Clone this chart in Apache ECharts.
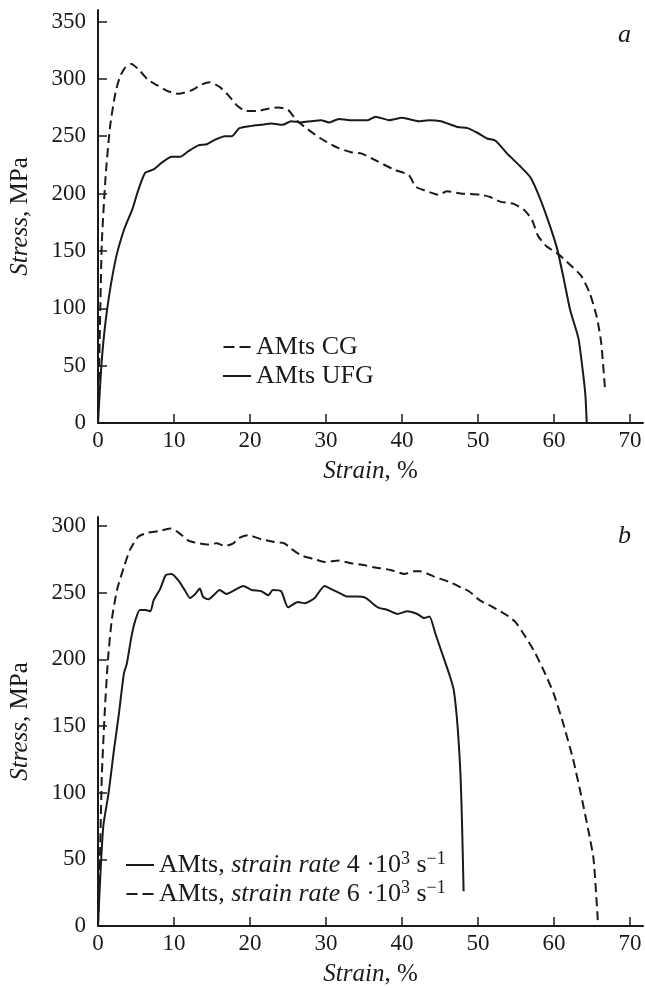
<!DOCTYPE html>
<html>
<head>
<meta charset="utf-8">
<style>
  html, body { margin: 0; padding: 0; background: #fff; }
  #chart { width: 645px; height: 988px; }
</style>
<script src="https://cdn.jsdelivr.net/npm/echarts@6/dist/echarts.min.js"></script>
</head>
<body>
<div id="chart"></div>
<script>
// panel a: coarse grain (dashed) / ultrafine grain (solid)
const cgStrain = [0, 0.3, 0.5, 1.0, 1.6, 2.3, 2.9, 3.6, 4.4, 5.5, 6.6, 7.9, 9.3, 10.6, 12.3, 13.6, 14.7, 16.0, 17.1, 18.4, 19.5, 21.0, 22.4, 23.7, 25.0, 26.1, 27.6, 29.3, 31.5, 33.3, 34.6, 36.8, 38.9, 40.9, 41.8, 43.3, 44.8, 45.9, 47.7, 50.3, 51.6, 52.9, 54.7, 56.0, 57.1, 57.9, 59.0, 60.6, 62.1, 63.6, 64.7, 65.6, 66.2, 66.7];
const cgStress = [0, 99, 157, 215, 259, 288, 302, 310, 313, 307, 299, 294, 289, 287, 290, 295, 297, 293, 286, 276, 272, 272, 274, 275, 273, 264, 256, 248, 240, 236, 235, 228, 221, 216, 206, 202, 199, 202, 200, 199, 197, 193, 191, 186, 177, 163, 154, 147, 138, 128, 113, 93, 70, 30];

const ufgStrain = [0, 0.5, 1.2, 2.3, 3.4, 4.5, 5.3, 6.2, 7.3, 8.4, 9.7, 10.8, 11.9, 13.2, 14.3, 15.4, 16.7, 17.6, 18.6, 20.2, 21.5, 22.8, 24.3, 25.4, 26.7, 28.0, 29.3, 30.4, 31.7, 33.1, 34.6, 35.5, 36.5, 38.3, 40.0, 42.2, 43.5, 45.1, 47.3, 48.6, 49.9, 51.2, 52.3, 53.8, 55.5, 56.9, 58.2, 59.5, 60.4, 61.2, 62.1, 63.2, 63.6, 64.1, 64.3];
const ufgStress = [0, 55, 99, 142, 168, 186, 203, 218, 221, 227, 232, 232, 237, 242, 243, 247, 250, 250, 257, 259, 260, 261, 260, 263, 262, 263, 264, 262, 265, 264, 264, 264, 267, 264, 266, 263, 264, 263, 258, 257, 253, 248, 246, 235, 224, 214, 195, 171, 152, 128, 99, 74, 55, 26, 0];

// panel b: strain rate 4e3 (solid) / 6e3 (dashed)
const r4Strain = [0, 0.3, 0.7, 1.4, 2.1, 2.7, 3.4, 3.8, 4.4, 4.9, 5.5, 6.2, 6.9, 7.3, 8.2, 8.9, 9.7, 10.6, 11.4, 12.1, 12.8, 13.4, 13.8, 14.5, 15.2, 16.0, 16.9, 18.0, 19.1, 20.2, 21.5, 22.4, 23.0, 24.1, 25.0, 26.3, 27.2, 28.5, 29.8, 30.9, 32.0, 32.8, 34.1, 35.2, 36.8, 38.1, 39.4, 40.7, 42.0, 42.9, 43.6, 44.4, 45.3, 46.2, 46.8, 47.3, 47.7, 47.9, 48.1];
const r4Stress = [0, 37, 75, 100, 132, 157, 189, 197, 217, 229, 237, 237, 236, 244, 253, 263, 264, 259, 252, 246, 249, 253, 247, 245, 248, 252, 249, 252, 255, 252, 251, 248, 252, 251, 239, 243, 242, 246, 255, 252, 249, 247, 247, 246, 239, 237, 234, 236, 234, 231, 232, 219, 204, 189, 177, 150, 112, 75, 26];

const r6Strain = [0, 0.3, 0.5, 0.9, 1.3, 1.8, 2.5, 3.4, 4.2, 5.3, 6.6, 7.9, 9.5, 10.6, 11.9, 13.2, 14.5, 15.6, 16.7, 17.8, 18.6, 19.7, 21.5, 23.2, 24.5, 25.4, 26.7, 28.5, 29.8, 31.7, 33.3, 34.6, 36.3, 38.5, 40.3, 41.6, 42.4, 44.2, 46.2, 47.7, 48.8, 50.3, 52.0, 53.8, 54.9, 56.0, 57.3, 58.6, 59.9, 61.2, 62.5, 63.6, 64.5, 65.2, 65.8];
const r6Stress = [0, 62, 112, 162, 199, 229, 252, 269, 282, 292, 295, 296, 298, 295, 289, 287, 286, 287, 285, 287, 291, 293, 290, 288, 287, 283, 278, 275, 273, 274, 272, 271, 269, 267, 264, 266, 266, 262, 258, 254, 251, 244, 239, 233, 228, 219, 207, 192, 175, 152, 125, 97, 72, 50, 0];

const xTicks = [0, 10, 20, 30, 40, 50, 60, 70];
const yTicksA = [0, 50, 100, 150, 200, 250, 300, 350];
const yTicksB = [0, 50, 100, 150, 200, 250, 300];

const FONT = "'Liberation Serif', 'Times New Roman', serif";
const INK = "#1a1a1a";

// legend samples: short solid bar, two dashes
const ICON_SOLID = "path://M0,0H28V2H0Z";
const ICON_DASH = "path://M0,0H11V2H0ZM16,0H27V2H16Z";

function pairs(xs, ys) {
  return xs.map((x, i) => [x, ys[i]]);
}

function nameStyle() {
  return {
    fontFamily: FONT, fontSize: 25, color: INK,
    rich: { i: { fontFamily: FONT, fontSize: 25, color: INK, fontStyle: "italic" } }
  };
}

function xAxisFor(gridIndex, nameGap) {
  return {
    type: "value",
    gridIndex: gridIndex,
    min: 0,
    max: 71.7,
    name: "{i|Strain}, %",
    nameLocation: "middle",
    nameGap: nameGap,
    nameTextStyle: nameStyle(),
    axisLine: { show: true, lineStyle: { color: INK, width: 2 } },
    axisTick: { show: true, inside: true, length: 9, customValues: xTicks, lineStyle: { color: INK, width: 1.5 } },
    axisLabel: { customValues: xTicks, margin: 6, fontFamily: FONT, fontSize: 23, color: INK },
    splitLine: { show: false }
  };
}

function yAxisFor(gridIndex, max, ticks) {
  return {
    type: "value",
    gridIndex: gridIndex,
    min: 0,
    max: max,
    name: "{i|Stress}, MPa",
    nameLocation: "middle",
    nameGap: 65,
    nameTextStyle: nameStyle(),
    axisLine: { show: true, lineStyle: { color: INK, width: 2 } },
    axisTick: { show: true, inside: true, length: 9, customValues: ticks, lineStyle: { color: INK, width: 1.5 } },
    axisLabel: { customValues: ticks, margin: 12, fontFamily: FONT, fontSize: 23, color: INK },
    splitLine: { show: false }
  };
}

const legendRich = {
  n: { fontFamily: FONT, fontSize: 26, lineHeight: 26, color: INK },
  i: { fontFamily: FONT, fontSize: 26, lineHeight: 26, color: INK, fontStyle: "italic" },
  sup: { fontFamily: FONT, fontSize: 18, color: INK, verticalAlign: "top", padding: [0, 0, 12, 0] }
};

const legendLabels = {
  "AMts CG": "{n|AMts CG}",
  "AMts UFG": "{n|AMts UFG}",
  "rate4": "{n|AMts, }{i|strain rate}{n| 4 ·10}{sup|3}{n| s}{sup|−1}",
  "rate6": "{n|AMts, }{i|strain rate}{n| 6 ·10}{sup|3}{n| s}{sup|−1}"
};

function lineSeries(name, xi, data, dashed) {
  return {
    name: name,
    type: "line",
    xAxisIndex: xi,
    yAxisIndex: xi,
    data: data,
    showSymbol: false,
    symbol: "none",
    smooth: 0.2,
    silent: true,
    lineStyle: { color: INK, width: 2, type: dashed ? [9, 5] : "solid" },
    itemStyle: { color: INK }
  };
}

const chart = echarts.init(document.getElementById("chart"), null, { renderer: "canvas" });

const option = {
  backgroundColor: "#fff",
  animation: false,
  grid: [
    { left: 96, right: 2, top: 10, bottom: 565 },
    { left: 96, right: 2, top: 517, bottom: 61 }
  ],
  xAxis: [xAxisFor(0, 36), xAxisFor(1, 36)],
  yAxis: [yAxisFor(0, 360, yTicksA), yAxisFor(1, 306.7, yTicksB)],
  legend: [
    {
      data: [
        { name: "AMts CG", icon: ICON_DASH },
        { name: "AMts UFG", icon: ICON_SOLID }
      ],
      orient: "vertical",
      left: 218,
      top: 329,
      itemWidth: 28,
      itemHeight: 2,
      itemGap: 3,
      formatter: name => legendLabels[name],
      textStyle: { rich: legendRich }
    },
    {
      data: [
        { name: "rate4", icon: ICON_SOLID },
        { name: "rate6", icon: ICON_DASH }
      ],
      orient: "vertical",
      left: 121,
      top: 845,
      itemWidth: 28,
      itemHeight: 2,
      itemGap: 1,
      formatter: name => legendLabels[name],
      textStyle: { rich: legendRich }
    }
  ],
  graphic: [
    { type: "text", left: 618, top: 22, style: { text: "a", font: "italic 26px " + FONT, fill: INK } },
    { type: "text", left: 618, top: 523, style: { text: "b", font: "italic 26px " + FONT, fill: INK } }
  ],
  series: [
    lineSeries("AMts CG", 0, pairs(cgStrain, cgStress), true),
    lineSeries("AMts UFG", 0, pairs(ufgStrain, ufgStress), false),
    lineSeries("rate4", 1, pairs(r4Strain, r4Stress), false),
    lineSeries("rate6", 1, pairs(r6Strain, r6Stress), true)
  ]
};

chart.setOption(option);
</script>
</body>
</html>
